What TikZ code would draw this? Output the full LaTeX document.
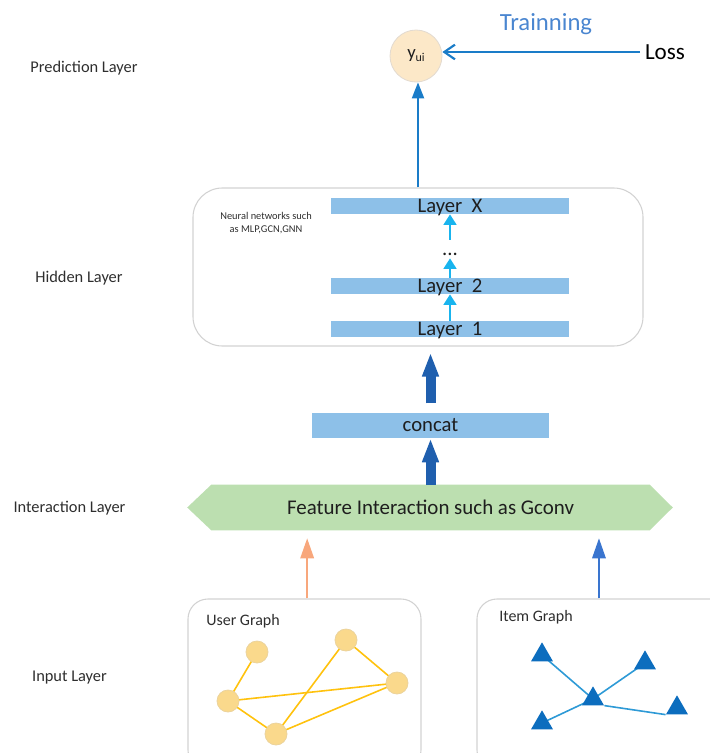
\documentclass[tikz,border=0pt]{standalone}
\usepackage{fontspec}
\setmainfont{Carlito}
\usetikzlibrary{arrows.meta,shapes.geometric,backgrounds}
\definecolor{labelgray}{HTML}{2E2E2E}
\definecolor{trainblue}{HTML}{4A86D0}
\definecolor{arrowblue}{HTML}{1A7CC8}
\definecolor{predfill}{HTML}{FCE8C8}
\definecolor{preddraw}{HTML}{E2DAD0}
\definecolor{barblue}{HTML}{8DC0E8}
\definecolor{cyanarr}{HTML}{19B4EE}
\definecolor{thickblue}{HTML}{1F5FAE}
\definecolor{hexgreen}{HTML}{BCDFB0}
\definecolor{orangearr}{HTML}{F8A77C}
\definecolor{inblue}{HTML}{3A75CF}
\definecolor{boxgray}{HTML}{D2D2D2}
\definecolor{nodeyellow}{HTML}{FAD98C}
\definecolor{nodeborder}{HTML}{EBD39C}
\definecolor{edgeyellow}{HTML}{FFC20E}
\definecolor{trifill}{HTML}{0C6DBE}
\definecolor{triedge}{HTML}{2E9AD6}
\definecolor{textdark}{HTML}{1E1E1E}
\begin{document}
\begin{tikzpicture}[x=0.75pt,y=-0.75pt,
  layerlabel/.style={font=\fontsize{12.3}{14}\selectfont, text=labelgray, inner sep=0pt},
  barbox/.style={fill=barblue, minimum width=178.5pt, minimum height=12pt, inner sep=0pt,
    font=\fontsize{15.5}{18}\selectfont, text=textdark},
  predcircle/.style={circle, fill=predfill, draw=preddraw, line width=0.6pt, minimum size=39pt, inner sep=0pt, text=textdark},
  roundbox/.style={draw=boxgray, line width=0.8pt},
  smallarr/.style={draw=cyanarr, line width=2pt, -{Triangle[length=8pt,width=9.5pt]}},
  thickarr/.style={draw=thickblue, line width=7.5pt, -{Triangle[length=18pt,width=11.5pt]}},
  inarrow/.style={line width=1.6pt, -{Triangle[length=15pt,width=10pt]}},
  unode/.style={circle, fill=nodeyellow, draw=nodeborder, line width=0.6pt, minimum size=16.5pt, inner sep=0pt},
  uedge/.style={draw=edgeyellow, line width=1.2pt},
  tnode/.style={regular polygon, regular polygon sides=3, fill=trifill, minimum size=19pt, inner sep=0pt},
  tedge/.style={draw=triedge, line width=1.2pt},
  graphtitle/.style={font=\fontsize{12}{14}\selectfont, text=labelgray, inner sep=0pt, anchor=west}
]
\useasboundingbox (0,0) rectangle (710,753);
\clip (0,0) rectangle (710,753);

% left layer labels
\node[layerlabel] (lpred) at (84,68) {Prediction Layer};
\node[layerlabel] (lhid) at (79,278) {Hidden Layer};
\node[layerlabel] (linter) at (69.5,508) {Interaction Layer};
\node[layerlabel] (linput) at (69.5,678) {Input Layer};

% prediction
\node[predcircle] (y) at (416,56) {\fontsize{14}{16}\selectfont y\raisebox{-0.12em}{\fontsize{9}{10}\selectfont ui}};
\node[font=\fontsize{18.5}{20}\selectfont, text=trainblue, inner sep=0pt] (train) at (546,24) {Trainning};
\node[font=\fontsize{17.3}{20}\selectfont, text=black, inner sep=3.5pt] (loss) at (665,52) {Loss};
\draw[arrowblue, line width=1.6pt, -{Straight Barb[length=8pt,width=11pt]}] (loss.west) -- (loss.west -| y.east);

% hidden layer box
\node[roundbox, rounded corners=22pt, minimum width=337.5pt, minimum height=118.5pt] (hid) at (418,267) {};
\draw[arrowblue, line width=1.6pt, -{Triangle[length=12pt,width=9pt]}] (hid.north) -- (hid.north |- y.south);
\node[font=\fontsize{7.8}{9.8}\selectfont, text=labelgray, align=center, inner sep=0pt] (nn) at (266,223) {Neural networks such\\as MLP,GCN,GNN};

\node[barbox] (LX) at (450,206) {\smash{\raisebox{-0.32em}{Layer~~X}}};
\node[barbox] (L2) at (450,286) {\smash{\raisebox{-0.32em}{Layer~~2}}};
\node[barbox] (L1) at (450,329) {\smash{\raisebox{-0.32em}{Layer~~1}}};
\node[inner sep=0pt, minimum height=13.5pt, minimum width=12pt, font=\fontsize{15.5}{18}\selectfont, text=textdark] (dots) at (450,249) {\smash{\raisebox{-0.3em}{...}}};
\draw[smallarr] (L1.north) -- (L2.south);
\draw[smallarr] (L2.north) -- (dots.south);
\draw[smallarr] (dots.north) -- (LX.south);

% concat
\node[fill=barblue, minimum width=177.75pt, minimum height=18.75pt, inner sep=0pt,
  font=\fontsize{15.5}{18}\selectfont, text=textdark] (concat) at (430.5,425.5) {concat};

% interaction hexagon
\node[minimum width=328.5pt, minimum height=33.75pt, inner sep=0pt,
  font=\fontsize{15.7}{18}\selectfont, text=textdark] (hex) at (430.5,507.5) {Feature Interaction such as Gconv};
\begin{pgfonlayer}{background}
  \fill[hexgreen] ([xshift=-18pt]hex.west) -- (hex.north west) -- (hex.north east)
     -- ([xshift=17.25pt]hex.east) -- (hex.south east) -- (hex.south west) -- cycle;
\end{pgfonlayer}

\draw[thickarr] (hex.north) -- (concat.south);
\draw[thickarr, shorten <=7pt, shorten >=4.5pt] (concat.north) -- (concat.north |- hid.south);

% input graphs
\node[roundbox, rounded corners=15pt, minimum width=174.75pt, minimum height=128.25pt] (ubox) at (304.5,684.5) {};
\node[roundbox, rounded corners=15pt, minimum width=189.75pt, minimum height=128.25pt] (ibox) at (603.5,684.5) {};
\draw[inarrow, orangearr, shorten >=6pt] ([xshift=2pt]ubox.north) -- ([xshift=2pt]ubox.north |- hex.south);
\draw[inarrow, inblue, shorten >=6pt] ([xshift=-3.4pt]ibox.north) -- ([xshift=-3.4pt]ibox.north |- hex.south);

\node[graphtitle] (ut) at (206,621) {User Graph};
\node[graphtitle] (it) at (499,617) {Item Graph};

% user graph
\node[unode] (ua) at (257,652) {};
\node[unode] (ub) at (346,640) {};
\node[unode] (uc) at (228,701) {};
\node[unode] (ud) at (397,683) {};
\node[unode] (ue) at (276,734) {};
\begin{pgfonlayer}{background}
\draw[uedge] (ua.center) -- (uc.center);
\draw[uedge] (uc.center) -- (ud.center);
\draw[uedge] (uc.center) -- (ue.center);
\draw[uedge] (ue.center) -- (ub.center);
\draw[uedge] (ub.center) -- (ud.center);
\draw[uedge] (ue.center) -- (ud.center);
\end{pgfonlayer}

% item graph
\node[tnode] (t1) at (542,655) {};
\node[tnode] (t2) at (645,663) {};
\node[tnode] (t3) at (593,699) {};
\node[tnode] (t4) at (542,723) {};
\node[tnode] (t5) at (677,708) {};
\begin{pgfonlayer}{background}
\draw[tedge] (t1.center) -- (t3.center);
\draw[tedge] (t2.center) -- (t3.center);
\draw[tedge] (t4.center) -- (t3.center);
\draw[tedge] (t3.corner 3) -- (t5.corner 2);
\end{pgfonlayer}
\end{tikzpicture}
\end{document}
